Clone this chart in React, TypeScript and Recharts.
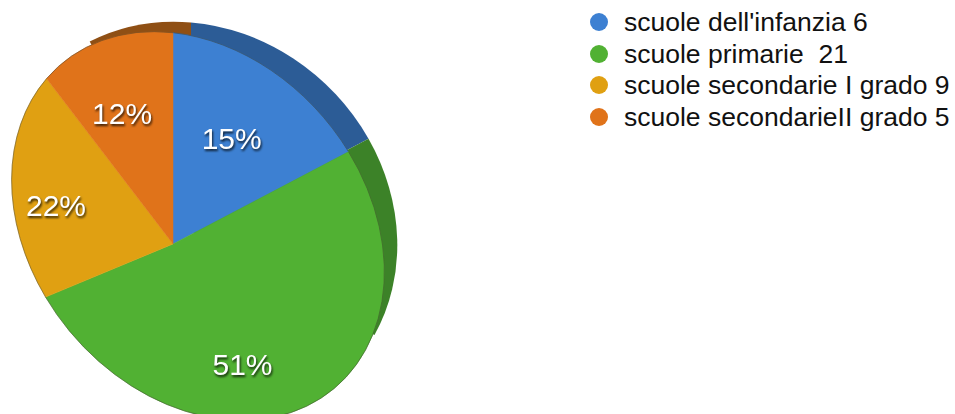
import React from 'react';
import { PieChart, Pie, Cell, Legend } from 'recharts';

const names = [
  "scuole dell'infanzia 6",
  'scuole primarie  21',
  'scuole secondarie I grado 9',
  'scuole secondarieII grado 5',
];
const values = [6, 21, 9, 5];
const percents = ['15%', '51%', '22%', '12%'];
const colors = ['#3d80d2', '#51b133', '#e0a012', '#e0731a'];
const sideColors = ['#2c5c96', '#3c8228', '#96700f', '#8f4f14'];

const data = names.map((name, i) => ({ name, value: values[i] }));

// the picture is a tilted disc: the hub sits off the centre of the ellipse
const TOP = { hx: 173, hy: 244, cx: 198, cy: 226, a: 212, b: 166, rot: 50 };
const SIDE = { hx: 191, hy: 232, cx: 196, cy: 223, a: 212, b: 190, rot: 45 };
// the side band only shows between these two screen angles
const SIDE_FROM = 332;
const SIDE_TO = 119.3;
// true slice angle -> angle seen on screen, both clockwise from the top
const TILT_IN = [0, 52.7, 237.1, 316.1, 360];
const TILT_OUT = [0, 62.3, 247.4, 322.6, 360];
const LABEL_ANGLE = [29, 150, 288, 338.7];
const LABEL_DIST = [121, 139, 123, 140];

const rad = (d: number) => (d * Math.PI) / 180;

function tilt(t: number) {
  for (let i = 1; i < TILT_IN.length; i++) {
    if (t <= TILT_IN[i] + 0.001) {
      const f = (t - TILT_IN[i - 1]) / (TILT_IN[i] - TILT_IN[i - 1]);
      return TILT_OUT[i - 1] + f * (TILT_OUT[i] - TILT_OUT[i - 1]);
    }
  }
  return t;
}

// where a ray from the hub meets the rim
function rim(phi: number, e: typeof TOP) {
  const c = Math.cos(rad(e.rot));
  const s = Math.sin(rad(e.rot));
  const ox = e.hx - e.cx;
  const oy = e.hy - e.cy;
  const vx = Math.sin(rad(phi));
  const vy = -Math.cos(rad(phi));
  const px = (ox * c + oy * s) / e.a;
  const py = (-ox * s + oy * c) / e.b;
  const qx = (vx * c + vy * s) / e.a;
  const qy = (-vx * s + vy * c) / e.b;
  const A = qx * qx + qy * qy;
  const B = 2 * (px * qx + py * qy);
  const C = px * px + py * py - 1;
  const l = (-B + Math.sqrt(B * B - 4 * A * C)) / (2 * A);
  return { x: e.hx + l * vx, y: e.hy + l * vy };
}

function slicePath(t0: number, t1: number, e: typeof TOP) {
  const p = rim(t0, e);
  const q = rim(t1, e);
  const large = t1 - t0 > 180 ? 1 : 0;
  const arc = `A${e.a} ${e.b} ${e.rot} ${large} 1 ${q.x} ${q.y}`;
  return {
    full: `M${e.hx} ${e.hy}L${p.x} ${p.y}${arc}Z`,
    edge: `M${p.x} ${p.y}${arc}`,
  };
}

function TopSlice(props: any) {
  const p = slicePath(tilt(90 - props.startAngle), tilt(90 - props.endAngle), TOP);
  return (
    <g>
      <path d={p.full} fill={props.fill} stroke={props.fill} strokeWidth={0.5} />
      <path d={p.edge} fill="none" stroke="#3a3a2a" strokeOpacity={0.45} strokeWidth={1} />
    </g>
  );
}

function SideSlice(props: any) {
  let t0 = tilt(90 - props.startAngle);
  let t1 = tilt(90 - props.endAngle);
  if (t0 >= SIDE_TO && t1 <= SIDE_FROM) return <g />;
  if (t0 < SIDE_TO) t1 = Math.min(t1, SIDE_TO);
  else t0 = Math.max(t0, SIDE_FROM);
  return <path d={slicePath(t0, t1, SIDE).full} fill={props.fill} />;
}

function SliceLabel(props: any) {
  const i = props.index;
  const x = TOP.hx + LABEL_DIST[i] * Math.sin(rad(LABEL_ANGLE[i]));
  const y = TOP.hy - LABEL_DIST[i] * Math.cos(rad(LABEL_ANGLE[i]));
  return (
    <text
      x={x}
      y={y}
      textAnchor="middle"
      dominantBaseline="central"
      fill="#ffffff"
      fontSize={30}
      fontFamily="Liberation Sans, Arial, sans-serif"
      style={{ filter: 'drop-shadow(1px 2px 1px rgba(0,0,0,0.75))' }}
    >
      {percents[i]}
    </text>
  );
}

function LegendList({ payload }: any) {
  const items = (payload || []).filter((e: any) => colors.includes(e.color));
  return (
    <div>
      {items.map((e: any) => (
        <div key={e.value} style={{ display: 'flex', alignItems: 'center', height: 31.7 }}>
          <span
            style={{
              width: 18,
              height: 18,
              borderRadius: 9,
              background: e.color,
              marginRight: 16,
              flex: 'none',
            }}
          />
          <span style={{ whiteSpace: 'pre', fontSize: 26.5, color: '#111', lineHeight: '24px' }}>{e.value}</span>
        </div>
      ))}
    </div>
  );
}

export default function App() {
  return (
    <div style={{ position: 'absolute', left: 0, top: 0, fontFamily: 'Liberation Sans, Arial, sans-serif' }}>
      <PieChart width={955} height={414} margin={{ top: 0, right: 0, bottom: 0, left: 0 }}>
        <Pie
          data={data}
          dataKey="value"
          nameKey="name"
          cx={SIDE.hx}
          cy={SIDE.hy}
          outerRadius={160}
          startAngle={90}
          endAngle={-270}
          stroke="none"
          legendType="none"
          shape={SideSlice}
          isAnimationActive={false}
        >
          {names.map((n, i) => (
            <Cell key={n} fill={sideColors[i]} />
          ))}
        </Pie>
        <Pie
          data={data}
          dataKey="value"
          nameKey="name"
          cx={TOP.hx}
          cy={TOP.hy}
          outerRadius={160}
          startAngle={90}
          endAngle={-270}
          stroke="none"
          shape={TopSlice}
          label={SliceLabel}
          labelLine={false}
          isAnimationActive={false}
        >
          {names.map((n, i) => (
            <Cell key={n} fill={colors[i]} />
          ))}
        </Pie>
        <Legend
          layout="vertical"
          align="left"
          verticalAlign="top"
          content={LegendList}
          wrapperStyle={{ left: 590, top: 6, width: 365 }}
        />
      </PieChart>
    </div>
  );
}
